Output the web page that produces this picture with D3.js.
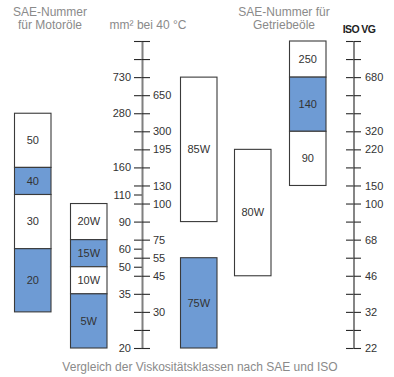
<!DOCTYPE html>
<html>
<head>
<meta charset="utf-8">
<script src="https://cdn.jsdelivr.net/npm/d3@7"></script>
<style>
  body { margin: 0; background: #fff; }
  svg { display: block; font-family: 'Liberation Sans', Arial, sans-serif; }
</style>
</head>
<body>
<div id="chart"></div>
<script>
// positions are in "grid steps" of the scale (0 = top tick, 17 = bottom tick)
const gridSteps = d3.range(0, 18)

// mm² bei 40 °C, left and right of the middle axis
const visLeftLabels = ['730', '280', '160', '110', '90', '60', '50', '35', '20']
const visLeftPos = [2, 4, 7, 8.5, 10, 11.5, 12.5, 14, 17]
const visRightLabels = ['650', '300', '195', '130', '100', '75', '55', '45', '30']
const visRightPos = [3, 5, 6, 8, 9, 11, 12, 13, 15]

// ISO VG
const isoLabels = ['680', '320', '220', '150', '100', '68', '46', '32', '22']
const isoPos = [2, 5, 6, 8, 9, 11, 13, 15, 17]

// SAE motor oils
const motorGrades = ['50', '40', '30', '20']
const motorBounds = [4, 7, 8.5, 11.5, 15]

// SAE winter grades
const winterGrades = ['20W', '15W', '10W', '5W']
const winterBounds = [9, 11, 12.5, 14, 17]

// SAE gear oils (W grades)
const gearWGrades = ['85W', '80W', '75W']
const gearWFrom = [2, 6, 12]
const gearWTo = [10, 13, 17]

// SAE gear oils
const gearGrades = ['250', '140', '90']
const gearBounds = [0, 2, 5, 8]

const blue = '#6e9bd4'
const width = 394, height = 377

const svg = d3.select('#chart')
  .append('svg')
    .attr('width', width)
    .attr('height', height)

const y = d3.scaleLinear()
  .domain([0, 17])
  .range([41, 348])

// columns: x position and width
const col = d3.scaleOrdinal()
  .domain(['motor', 'winter', 'gearW1', 'gearW2', 'gear'])
  .range([14, 70, 180, 234, 289])
const colW = 36.5

// build segment rows
const stacked = (grades, bounds, key, firstBlue) =>
  grades.map((g, i) => ({
    label: g, key,
    y0: bounds[i], y1: bounds[i + 1],
    fill: (i % 2 === 1) === !firstBlue ? blue : '#fff'
  }))

const segments = [
  ...stacked(motorGrades, motorBounds, 'motor', false),
  ...stacked(winterGrades, winterBounds, 'winter', false),
  ...stacked(gearGrades, gearBounds, 'gear', false),
  { label: gearWGrades[0], key: 'gearW1', y0: gearWFrom[0], y1: gearWTo[0], fill: '#fff' },
  { label: gearWGrades[1], key: 'gearW2', y0: gearWFrom[1], y1: gearWTo[1], fill: '#fff' },
  { label: gearWGrades[2], key: 'gearW1', y0: gearWFrom[2], y1: gearWTo[2], fill: blue }
]

const seg = svg.append('g')
  .selectAll('g')
  .data(segments)
  .enter()
  .append('g')

seg.append('rect')
  .attr('x', d => col(d.key) + 0.5)
  .attr('y', d => y(d.y0))
  .attr('width', colW)
  .attr('height', d => y(d.y1) - y(d.y0))
  .attr('fill', d => d.fill)
  .attr('stroke', '#3a3a3a')
  .attr('stroke-width', 1.1)

seg.append('text')
  .attr('x', d => col(d.key) + 0.5 + colW / 2)
  .attr('y', d => (y(d.y0) + y(d.y1)) / 2)
  .attr('dy', '0.35em')
  .attr('text-anchor', 'middle')
  .attr('font-size', 11)
  .attr('fill', '#333')
  .text(d => d.label)

// middle axis
const leftMap = new Map(visLeftPos.map((p, i) => [p, visLeftLabels[i]]))
const rightMap = new Map(visRightPos.map((p, i) => [p, visRightLabels[i]]))
const isoMap = new Map(isoPos.map((p, i) => [p, isoLabels[i]]))

function styleAxis (g) {
  g.select('.domain').attr('stroke', '#808080').attr('stroke-width', 1.6)
  g.selectAll('.tick line').attr('stroke', '#2a2a2a').attr('stroke-width', 1.1)
  g.selectAll('.tick text')
    .attr('fill', '#333')
    .attr('font-size', 11)
    .attr('font-family', "'Liberation Sans', Arial, sans-serif")
}

svg.append('g')
  .attr('transform', 'translate(142,0)')
  .call(d3.axisLeft(y)
    .tickValues(gridSteps.concat([8.5, 11.5, 12.5]))
    .tickFormat(d => leftMap.get(d) || '')
    .tickSize(8).tickSizeOuter(0).tickPadding(3))
  .call(styleAxis)

svg.append('g')
  .attr('transform', 'translate(142,0)')
  .call(d3.axisRight(y)
    .tickValues(gridSteps)
    .tickFormat(d => rightMap.get(d) || '')
    .tickSize(8).tickSizeOuter(0).tickPadding(3))
  .call(styleAxis)

// ISO VG axis
svg.append('g')
  .attr('transform', 'translate(353.5,0)')
  .call(d3.axisLeft(y)
    .tickValues(gridSteps)
    .tickFormat('')
    .tickSize(7.5).tickSizeOuter(0))
  .call(styleAxis)

svg.append('g')
  .attr('transform', 'translate(353.5,0)')
  .call(d3.axisRight(y)
    .tickValues(gridSteps)
    .tickFormat(d => isoMap.get(d) || '')
    .tickSize(7.5).tickSizeOuter(0).tickPadding(4))
  .call(styleAxis)

// headers (thin grey text)
const header = (lines, x, y0) => {
  const t = svg.append('text')
    .attr('x', x)
    .attr('text-anchor', 'middle')
    .attr('font-size', 12)
    .attr('fill', '#8a8a8a')
  lines.forEach((l, i) => {
    t.append('tspan').attr('x', x).attr('y', y0 + i * 13).text(l)
  })
}
header(['SAE-Nummer', 'für Motoröle'], 50, 16)
header(['mm² bei 40 °C'], 148, 28.5)
header(['SAE-Nummer für', 'Getriebeöle'], 284, 16)

svg.append('text')
  .attr('x', 359)
  .attr('y', 32.5)
  .attr('text-anchor', 'middle')
  .attr('font-size', 10.5)
  .attr('font-weight', 'bold')
  .attr('letter-spacing', -0.6)
  .attr('fill', '#222')
  .text('ISO VG')

svg.append('text')
  .attr('x', 200)
  .attr('y', 371)
  .attr('text-anchor', 'middle')
  .attr('font-size', 12)
  .attr('fill', '#8a8a8a')
  .text('Vergleich der Viskositätsklassen nach SAE und ISO')
</script>
</body>
</html>
